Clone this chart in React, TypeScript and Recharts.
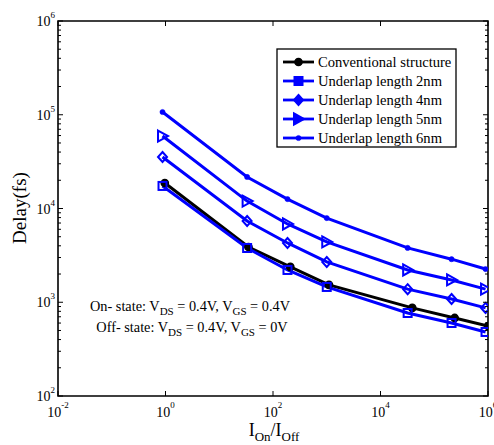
import React from 'react';
import { LineChart, Line, XAxis, YAxis, ReferenceArea, Customized } from 'recharts';

const W = 494;
const H = 445;
const PL = 58;
const PR = 488;
const PT = 21;
const PB = 396;
const SERIF = '"Liberation Serif", "Times New Roman", serif';
const BLUE = '#0000FF';

// x values (I_On / I_Off)
const xConventional = [0.97, 35, 210, 1100, 39000, 240000, 1000000];
const xUnderlap = [0.88, 33, 186, 1000, 32000, 210000, 900000];

// delay values (fs)
const conventional = [18700, 3880, 2380, 1530, 870, 680, 558];
const underlap2nm = [17400, 3790, 2210, 1456, 768, 601, 482];
const underlap4nm = [35400, 7360, 4290, 2690, 1380, 1084, 870];
const underlap5nm = [59300, 12000, 6840, 4400, 2210, 1730, 1380];
const underlap6nm = [107000, 21700, 12600, 7900, 3800, 2880, 2260];

const seriesNames = [
  'Conventional structure',
  'Underlap length 2nm',
  'Underlap length 4nm',
  'Underlap length 5nm',
  'Underlap length 6nm',
];

const xTicks = [0.01, 1, 100, 10000, 1000000];
const yMajor = [100, 1000, 10000, 100000, 1000000];
const yTicks: number[] = [];
yMajor.forEach((m, i) => {
  yTicks.push(m);
  if (i < yMajor.length - 1) {
    for (let k = 2; k <= 9; k++) yTicks.push(m * k);
  }
});

type Shape = 'circle' | 'square' | 'diamond' | 'triangle' | 'point';

const series: { name: string; xs: number[]; ys: number[]; color: string; shape: Shape }[] = [
  { name: seriesNames[0], xs: xConventional, ys: conventional, color: '#000000', shape: 'circle' },
  { name: seriesNames[1], xs: xUnderlap, ys: underlap2nm, color: BLUE, shape: 'square' },
  { name: seriesNames[2], xs: xUnderlap, ys: underlap4nm, color: BLUE, shape: 'diamond' },
  { name: seriesNames[3], xs: xUnderlap, ys: underlap5nm, color: BLUE, shape: 'triangle' },
  { name: seriesNames[4], xs: xUnderlap, ys: underlap6nm, color: BLUE, shape: 'point' },
];

const Marker = ({ shape, color, cx, cy, legend }: { shape: Shape; color: string; cx: number; cy: number; legend?: boolean }) => {
  if (cx == null || cy == null || isNaN(cx) || isNaN(cy)) return null;
  const fillHollow = legend ? color : 'none';
  switch (shape) {
    case 'circle':
      return <circle cx={cx} cy={cy} r={3.6} fill={color} stroke={color} strokeWidth={1.5} />;
    case 'square':
      return <rect x={cx - 4} y={cy - 4} width={8} height={8} fill={fillHollow} stroke={color} strokeWidth={2} />;
    case 'diamond':
      return (
        <polygon
          points={`${cx},${cy - 5} ${cx + 4.5},${cy} ${cx},${cy + 5} ${cx - 4.5},${cy}`}
          fill={fillHollow}
          stroke={color}
          strokeWidth={2}
        />
      );
    case 'triangle':
      return (
        <polygon
          points={`${cx - 4.5},${cy - 5.5} ${cx + 5.5},${cy} ${cx - 4.5},${cy + 5.5}`}
          fill={fillHollow}
          stroke={color}
          strokeWidth={2}
        />
      );
    case 'point':
    default:
      return <circle cx={cx} cy={cy} r={2.6} fill={color} stroke={color} strokeWidth={0.5} />;
  }
};

const makeDot = (shape: Shape, color: string) => (p: any) => (
  <Marker key={`dot-${shape}-${p.index}`} shape={shape} color={color} cx={p.cx} cy={p.cy} />
);

const YTick = (props: any) => {
  const { y, payload } = props;
  const v = payload.value as number;
  const e = Math.log10(v);
  const major = Math.abs(e - Math.round(e)) < 1e-6;
  const len = major ? 5 : 3;
  return (
    <g>
      <line x1={PL} x2={PL + len} y1={y} y2={y} stroke="#000" strokeWidth={1} />
      <line x1={PR} x2={PR - len} y1={y} y2={y} stroke="#000" strokeWidth={1} />
      {major && (
        <text x={PL - 3} y={y + 5} textAnchor="end" fontFamily={SERIF} fontSize={14} fill="#000">
          10
          <tspan dy={-8} fontSize={9}>
            {Math.round(e)}
          </tspan>
        </text>
      )}
    </g>
  );
};

const XTick = (props: any) => {
  const { x, payload } = props;
  const v = payload.value as number;
  const e = Math.round(Math.log10(v));
  return (
    <g>
      <line x1={x} x2={x} y1={PB} y2={PB - 5} stroke="#000" strokeWidth={1} />
      <line x1={x} x2={x} y1={PT} y2={PT + 5} stroke="#000" strokeWidth={1} />
      <text x={x} y={PB + 21} textAnchor="middle" fontFamily={SERIF} fontSize={14} fill="#000">
        10
        <tspan dy={-9} fontSize={9}>
          {e}
        </tspan>
      </text>
    </g>
  );
};

const Decorations = () => {
  const lx = 277;
  const ly = 49;
  const lw = 179;
  const lh = 98;
  return (
    <g>
      {/* y label */}
      <text
        transform={`translate(25.5, 208) rotate(-90)`}
        textAnchor="middle"
        fontFamily={SERIF}
        fontSize={19}
        fill="#000"
      >
        Delay(fs)
      </text>
      {/* x label */}
      <text x={274} y={436} textAnchor="middle" fontFamily={SERIF} fontSize={18} fill="#000">
        I
        <tspan dy={5} fontSize={13}>On</tspan>
        <tspan dy={-5}>/I</tspan>
        <tspan dy={5} fontSize={13}>Off</tspan>
      </text>
      {/* annotation */}
      <text x={190} y={311} textAnchor="middle" fontFamily={SERIF} fontSize={14.3} fill="#000">
        On- state: V
        <tspan dy={4} fontSize={11}>DS</tspan>
        <tspan dy={-4}> = 0.4V, V</tspan>
        <tspan dy={4} fontSize={11}>GS</tspan>
        <tspan dy={-4}> = 0.4V</tspan>
      </text>
      <text x={192} y={332} textAnchor="middle" fontFamily={SERIF} fontSize={14.3} fill="#000">
        Off- state: V
        <tspan dy={4} fontSize={11}>DS</tspan>
        <tspan dy={-4}> = 0.4V, V</tspan>
        <tspan dy={4} fontSize={11}>GS</tspan>
        <tspan dy={-4}> = 0V</tspan>
      </text>
      {/* legend */}
      <rect x={lx} y={ly} width={lw} height={lh} fill="#fff" stroke="#000" strokeWidth={1.3} />
      {series.map((s, i) => {
        const cy = ly + 13 + i * 19;
        return (
          <g key={s.name}>
            <line x1={283} x2={314} y1={cy} y2={cy} stroke={s.color} strokeWidth={2.8} />
            <Marker shape={s.shape} color={s.color} cx={298.5} cy={cy} legend />
            <text x={318} y={cy + 5} fontFamily={SERIF} fontSize={14.6} fill="#000">
              {s.name}
            </text>
          </g>
        );
      })}
    </g>
  );
};

export default function App() {
  return (
    <div style={{ position: 'absolute', left: 0, top: 0, width: W, height: H, background: '#fff' }}>
      <LineChart width={W} height={H} margin={{ top: PT, right: W - PR, bottom: 0, left: 0 }}>
        <XAxis
          dataKey="x"
          type="number"
          scale="log"
          domain={[0.01, 1000000]}
          ticks={xTicks}
          interval={0}
          allowDataOverflow
          height={H - PB}
          axisLine={false}
          tickLine={false}
          tick={<XTick />}
        />
        <YAxis
          dataKey="y"
          type="number"
          scale="log"
          domain={[100, 1000000]}
          ticks={yTicks}
          interval={0}
          allowDataOverflow
          width={PL}
          axisLine={false}
          tickLine={false}
          tick={<YTick />}
        />
        <ReferenceArea
          x1={0.01}
          x2={1000000}
          y1={100}
          y2={1000000}
          fill="none"
          fillOpacity={0}
          stroke="#000"
          strokeWidth={1.6}
          ifOverflow="visible"
        />
        {series.map((s) => (
          <Line
            key={s.name}
            name={s.name}
            data={s.xs.map((x, i) => ({ x, y: s.ys[i] }))}
            dataKey="y"
            type="linear"
            stroke={s.color}
            strokeWidth={3}
            dot={makeDot(s.shape, s.color)}
            activeDot={false}
            isAnimationActive={false}
          />
        ))}
        <Customized component={Decorations} />
      </LineChart>
    </div>
  );
}
